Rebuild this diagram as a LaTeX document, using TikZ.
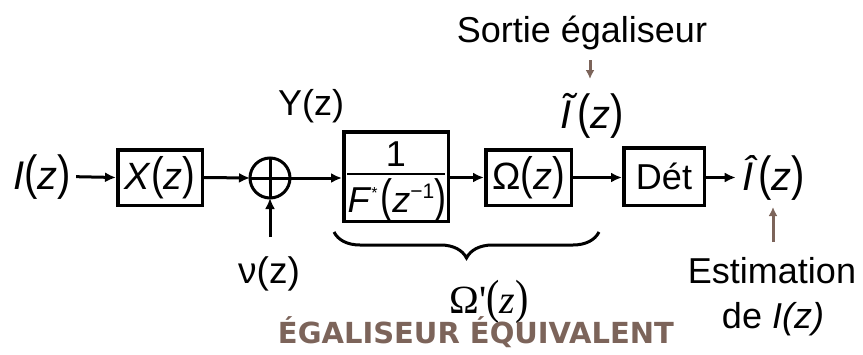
\documentclass[tikz,border=0pt]{standalone}
\usepackage{graphicx}
\usepackage{fontspec}
\setmainfont{Liberation Sans}
\newfontfamily\ttlfont{DejaVu Sans Bold}
\newfontfamily\srffont{Liberation Serif}
\usetikzlibrary{arrows.meta,decorations.pathreplacing}
\definecolor{brn}{RGB}{124,100,90}
\newcommand\pL{\scalebox{1}[1.2]{(}}
\newcommand\pR{\scalebox{1}[1.2]{)}}
\newcommand\fsz[1]{\fontsize{#1}{#1}\selectfont}
\begin{document}
\begin{tikzpicture}[x=1pt,y=-1pt,
  blk/.style={draw,line width=3.5pt,inner sep=0pt},
  lbl/.style={inner sep=0pt,anchor=base},
  sig/.style={line width=3pt,-{Latex[length=11pt,width=10pt]}},
  note/.style={draw=brn,line width=3pt,-{Latex[length=9pt,width=9pt]}}]
\useasboundingbox (0,0) rectangle (863,354);

% blocks
\node[lbl] (I) at (42,189) {\fsz{40}\textit{I}\pL\textit{z}\pR};
\node[blk,minimum width=84.5pt,minimum height=55.5pt] (X) at (160,177.5) {\fsz{38}\textit{X}\pL\textit{z}\pR};
\node[draw,circle,line width=3pt,minimum size=40pt,inner sep=0pt,outer sep=0pt] (S) at (270,178) {};
\draw[line width=3pt] (S.north) -- (S.south) (S.west) -- (S.east);
\node[lbl] (nu) at (269,283) {\fsz{37}ν(z)};
\node[lbl] (Y) at (311,115) {\fsz{36}Y(z)};

\node[blk,minimum width=104.5pt,minimum height=89.5pt] (F) at (396,176.5) {};
\node[lbl] (one) at (396,166) {\fsz{36}1};
\draw[line width=1.5pt] (347,174) -- (445,174);
\node[lbl] (den) at (397,212) {\fsz{36}\textit{F}\raisebox{14pt}{\fsz{16}*}\hspace{3pt}\scalebox{1}[1.3]{(}\textit{z}\raisebox{14pt}{\fsz{21}−1}\scalebox{1}[1.3]{)}};

\node[blk,minimum width=85.5pt,minimum height=55.5pt] (W) at (528.5,177.5) {\fsz{38}Ω\pL\textit{z}\pR};
\node[blk,minimum width=80.5pt,minimum height=57.5pt] (D) at (664,176.5) {\fsz{36}Dét};
\node[lbl] (Ih) at (774,190) {\fsz{40}\textit{Î}\pL\textit{z}\pR};
\node[lbl] (T) at (592,128) {\fsz{40}\textit{Ĩ}\pL\textit{z}\pR};

\node[lbl] (sortie) at (582,42) {\fsz{36}Sortie égaliseur};
\node[lbl] (est) at (772,283) {\fsz{36}Estimation};
\node[lbl] (de) at (773,328) {\fsz{36}de \textit{I(z)}};

\node[lbl] (Wp) at (489,313) {\fsz{40}\srffont Ω'\pL\textit{z}\pR};
\node[lbl] (title) at (476,343) {\fsz{29}\ttlfont\color{brn}ÉGALISEUR ÉQUIVALENT};

% connectors
\draw[sig,shorten <=5pt] (I.east) -- (X.west);
\draw[sig] (X.east) -- (S.west);
\coordinate (n0) at (270,237);
\draw[sig] (n0) -- (S.south);
\draw[sig] (S.east) -- (F.west |- S.east);
\draw[sig] (F.east |- W.west) -- (W.west);
\draw[sig] (W.east) -- (D.west |- W.east);
\draw[sig,shorten >=7pt] (D.east |- W.east) -- (Ih.west |- W.east);

% notes
\draw[note] (590,60) -- (590,79);
\draw[note] (773,242) -- (773,207);

% brace
\draw[line width=3pt,decorate,decoration={brace,mirror,amplitude=26pt}] (334,232) -- (599,232);
\end{tikzpicture}
\end{document}
